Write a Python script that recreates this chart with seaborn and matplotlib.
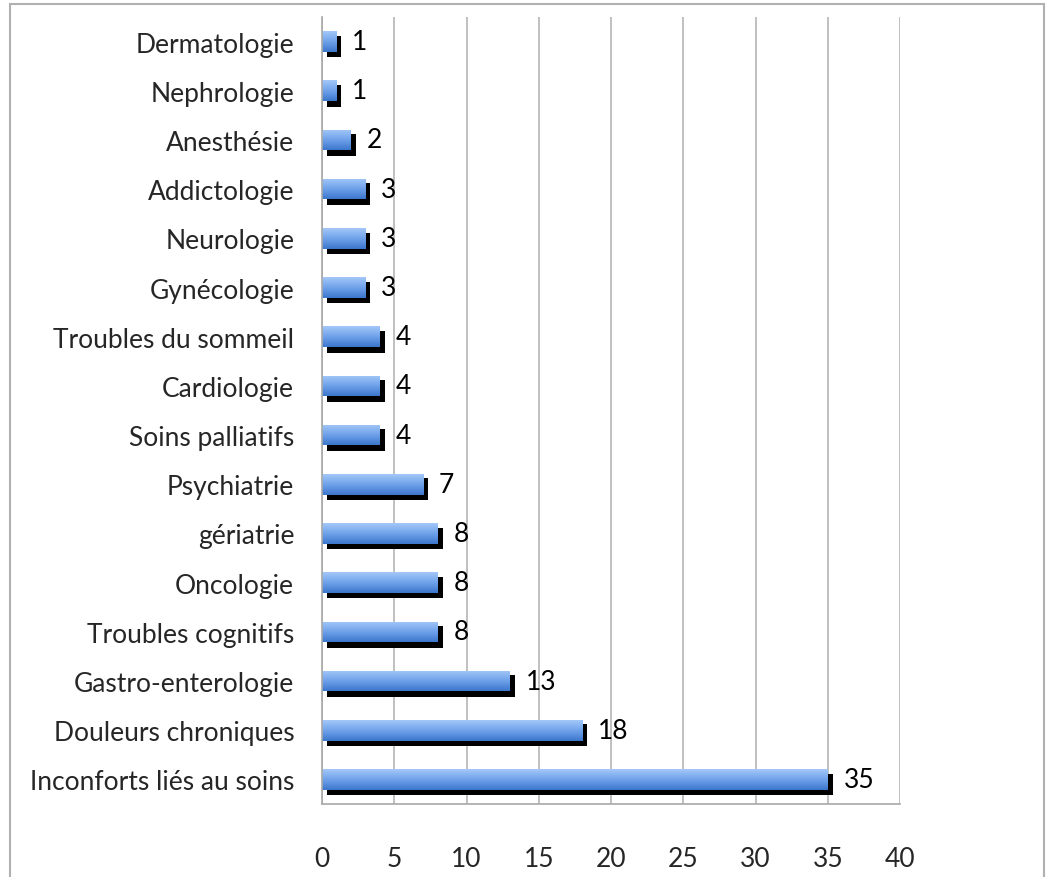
import matplotlib
matplotlib.use("Agg")
import matplotlib.pyplot as plt
import matplotlib.transforms as mtransforms
from matplotlib.patches import Rectangle
from matplotlib.colors import LinearSegmentedColormap
import numpy as np
import pandas as pd
import seaborn as sns

categories = ["Dermatologie", "Nephrologie", "Anesthésie", "Addictologie", "Neurologie",
              "Gynécologie", "Troubles du sommeil", "Cardiologie", "Soins palliatifs",
              "Psychiatrie", "gériatrie", "Oncologie", "Troubles cognitifs",
              "Gastro-enterologie", "Douleurs chroniques", "Inconforts liés au soins"]
values = [1, 1, 2, 3, 3, 3, 4, 4, 4, 7, 8, 8, 8, 13, 18, 35]
x_ticks = [0, 5, 10, 15, 20, 25, 30, 35, 40]

df = pd.DataFrame({"cat": categories, "val": values})

sns.set_style("white")
plt.rcParams['font.family'] = ['Lato', 'DejaVu Sans']
FS = 19

fig = plt.figure(figsize=(10.49, 8.78), dpi=100)
ax = fig.add_axes([322/1049, 1 - 805/878, (900-322)/1049, (805-18)/878])

# shadow bars
sns.barplot(data=df, x="val", y="cat", color="black", width=0.44, ax=ax, saturation=1)
shadow_patches = list(ax.patches)
off = mtransforms.ScaledTranslation(5/100, -5/100, fig.dpi_scale_trans)
for p in shadow_patches:
    p.set_transform(ax.transData + off)
    p.set_edgecolor("none")

# main bars
sns.barplot(data=df, x="val", y="cat", color="#5b93e0", width=0.42, ax=ax, saturation=1)
main_patches = ax.patches[len(shadow_patches):]
grad = np.linspace(0, 1, 256).reshape(-1, 1)
cmap = LinearSegmentedColormap.from_list("g", ["#a4c8f8", "#6fa2ea", "#3b76cc"])
for p in main_patches:
    p.set_edgecolor("none")
    x0, y0 = p.get_x(), p.get_y()
    w, h = p.get_width(), p.get_height()
    im = ax.imshow(grad, cmap=cmap, aspect="auto", extent=[x0, x0 + w, y0 + h, y0],
                   origin="upper", zorder=p.get_zorder() + 0.1, interpolation="bicubic")
    im.set_clip_path(p)

for i, v in enumerate(values):
    ax.text(v + 1.1, i, str(v), va="center", ha="left", fontsize=FS, color="black")

ax.set_xlim(0, 40)
ax.set_ylim(len(categories) - 0.5, -0.5)
ax.set_xticks(x_ticks)
ax.set_xticklabels([str(t) for t in x_ticks], fontsize=FS)
ax.set_yticks(np.arange(len(categories)))
ax.set_yticklabels(categories, fontsize=FS)
ax.set_xlabel("")
ax.set_ylabel("")
ax.grid(axis="x", color="#b5b5b5", linewidth=1.2)
ax.set_axisbelow(True)
for s in ["top", "right"]:
    ax.spines[s].set_visible(False)
for s in ["left", "bottom"]:
    ax.spines[s].set_color("#a8a8a8")
    ax.spines[s].set_linewidth(1.2)

# y ticks at category boundaries
ax.set_yticks(np.arange(len(categories) + 1) - 0.5, minor=True)
ax.tick_params(axis="y", which="major", length=0, pad=20)
ax.tick_params(axis="y", which="minor", length=5, color="#a8a8a8", width=1.2)
ax.tick_params(axis="x", which="major", length=6, color="#a8a8a8", width=1.2, pad=24)

# outer border
fig.patches.append(Rectangle((10/1049, -0.01), (1044-10)/1049, 1 - 5/878 + 0.01,
                             transform=fig.transFigure, fill=False,
                             edgecolor="#b0b0b0", linewidth=1.5))

fig.savefig("out.png", dpi=100)
